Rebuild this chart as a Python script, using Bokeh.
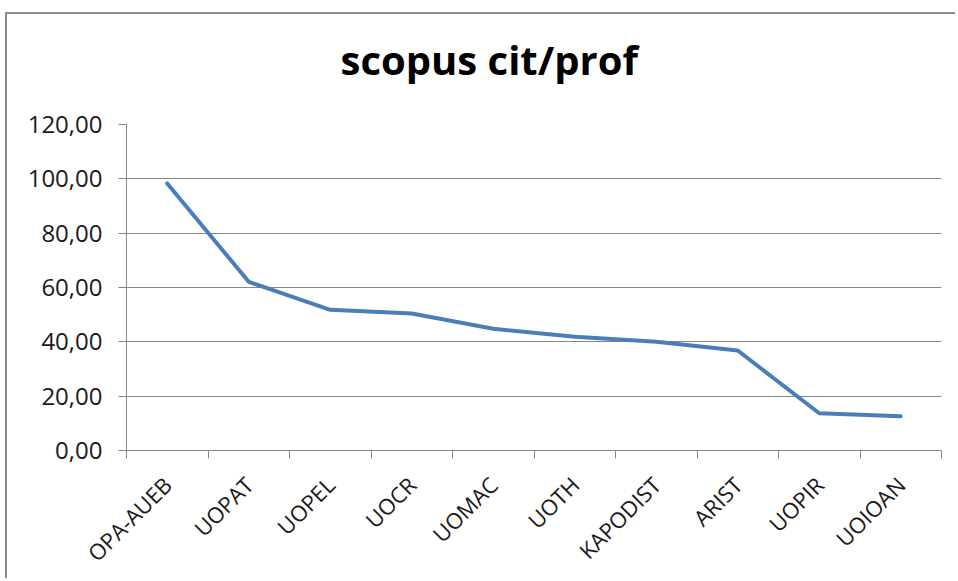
import math
from bokeh.plotting import figure
from bokeh.models import FixedTicker, CustomJSTickFormatter, Range1d, Title
from bokeh.embed import file_html
from bokeh.resources import INLINE

categories = ["OPA-AUEB", "UOPAT", "UOPEL", "UOCR", "UOMAC", "UOTH",
              "KAPODIST", "ARIST", "UOPIR", "UOIOAN"]
values = [98.3, 62.1, 51.8, 50.4, 44.8, 41.9, 40.0, 36.8, 13.7, 12.6]
y_ticks = [0, 20, 40, 60, 80, 100, 120]
title_text = "scopus cit/prof"

n = len(categories)
xs = [i + 0.5 for i in range(n)]

GRAY = "#868686"
FONT = "Open Sans"

p = figure(width=950, height=566, output_backend="svg", toolbar_location=None,
           x_range=Range1d(0, n), y_range=Range1d(0, y_ticks[-1]),
           min_border_left=119, min_border_right=16, min_border_top=110,
           min_border_bottom=129, margin=(12, 0, 0, 5),
           styles={"border-left": "2px solid #8c8c8c", "border-top": "2px solid #8c8c8c"})

p.title.text = title_text
p.title.text_font = FONT
p.title.text_font_size = "40px"
p.title.text_font_style = "bold"
p.title.text_color = "#000000"
p.title.align = "left"
p.title.offset = 214
p.title.standoff = 0

# empty spacer between the title and the plot area
spacer = Title(text=" ", text_font_size="1px", standoff=35)
p.add_layout(spacer, "above")

p.outline_line_color = None
p.background_fill_color = "white"
p.border_fill_color = "white"

p.xgrid.visible = False
p.ygrid.ticker = FixedTicker(ticks=y_ticks)
p.ygrid.grid_line_color = GRAY
p.ygrid.grid_line_width = 1

p.yaxis.ticker = FixedTicker(ticks=y_ticks)
p.yaxis.formatter = CustomJSTickFormatter(code="return tick.toFixed(2).replace('.', ',');")
p.yaxis.axis_line_color = GRAY
p.yaxis.major_tick_line_color = GRAY
p.yaxis.major_tick_out = 8
p.yaxis.major_tick_in = 0
p.yaxis.minor_tick_line_color = None
p.yaxis.major_label_text_font = FONT
p.yaxis.major_label_text_font_size = "24px"
p.yaxis.major_label_text_color = "#1a1a1a"
p.yaxis.major_label_standoff = 16

p.xaxis.ticker = FixedTicker(ticks=xs, minor_ticks=list(range(n + 1)))
p.xaxis.formatter = CustomJSTickFormatter(args=dict(labels=categories),
                                          code="return labels[Math.floor(tick)];")
p.xaxis.axis_line_color = GRAY
p.xaxis.major_tick_line_color = None
p.xaxis.major_tick_out = 0
p.xaxis.major_tick_in = 0
p.xaxis.minor_tick_line_color = GRAY
p.xaxis.minor_tick_out = 8
p.xaxis.minor_tick_in = 0
p.xaxis.major_label_orientation = math.pi / 4
p.xaxis.major_label_text_font = FONT
p.xaxis.major_label_text_font_size = "22px"
p.xaxis.major_label_text_color = "#1a1a1a"
p.xaxis.major_label_standoff = 22

p.line(xs, values, line_width=4, line_color="#4A7EBB", line_join="round", line_cap="round")

open("out.html", "w").write(file_html(p, INLINE))
